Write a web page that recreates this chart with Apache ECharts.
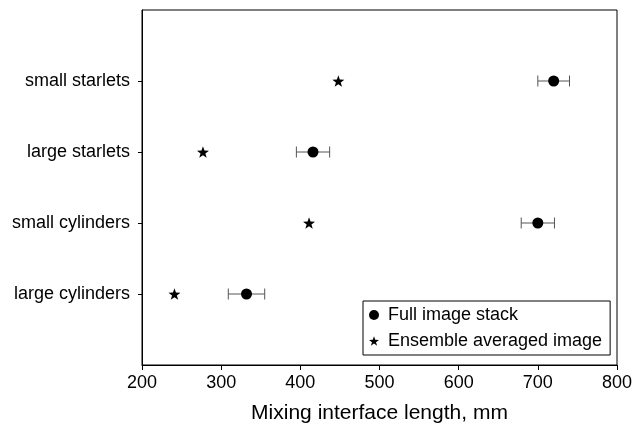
<!DOCTYPE html>
<html>
<head>
<meta charset="utf-8">
<script src="https://cdn.jsdelivr.net/npm/echarts@6/dist/echarts.min.js"></script>
<style>
  html, body { margin: 0; padding: 0; background: #fff; }
  #main { width: 634px; height: 425px; }
</style>
</head>
<body>
<div id="main"></div>
<script>
// categories listed bottom to top
const categories = ['large cylinders', 'small cylinders', 'large starlets', 'small starlets'];
const fullImage = [332, 700, 416, 720];
const fullImageErr = [23, 21, 21, 20];
const ensembleAvg = [241, 411, 277, 448];
const xTicks = [200, 300, 400, 500, 600, 700, 800];

const starPath = 'path://M0,-10 L2.35,-3.24 L9.51,-3.09 L3.8,1.24 L5.88,8.09 L0,4 L-5.88,8.09 L-3.8,1.24 L-9.51,-3.09 L-2.35,-3.24 Z';
const font = 'Liberation Sans, Arial, sans-serif';
const catPos = categories.map((c, i) => i + 1);

const chart = echarts.init(document.getElementById('main'), null, { renderer: 'canvas' });

const errData = categories.map((c, i) => [fullImage[i] - fullImageErr[i], fullImage[i] + fullImageErr[i], i + 1]);

chart.setOption({
    animation: false,
    backgroundColor: '#fff',
    grid: {
        left: 142, right: 17, top: 10, bottom: 60,
        outerBoundsMode: 'none',
        show: true, borderColor: '#000', borderWidth: 1
    },
    xAxis: {
        type: 'value',
        min: xTicks[0],
        max: xTicks[xTicks.length - 1],
        interval: 100,
        splitLine: { show: false },
        axisLine: { lineStyle: { color: '#000' } },
        axisTick: { show: true, inside: false, length: 5, lineStyle: { color: '#000' } },
        axisLabel: { color: '#000', fontSize: 18, fontFamily: font, margin: 9, hideOverlap: false },
        name: 'Mixing interface length, mm',
        nameLocation: 'middle',
        nameGap: 38,
        nameTextStyle: { color: '#000', fontSize: 21, fontFamily: font }
    },
    yAxis: {
        type: 'value',
        min: 0,
        max: 5,
        interval: 1,
        splitLine: { show: false },
        axisLine: { lineStyle: { color: '#000' } },
        axisTick: {
            show: true, length: 4, lineStyle: { color: '#000' },
            customValues: catPos
        },
        axisLabel: {
            color: '#000', fontSize: 18, fontFamily: font, margin: 12,
            customValues: catPos,
            formatter: v => (v >= 1 && v <= categories.length) ? categories[v - 1] : ''
        }
    },
    legend: {
        orient: 'vertical',
        left: 363,
        top: 301,
        itemWidth: 10,
        itemHeight: 10,
        itemGap: 8,
        padding: [5, 8, 5, 6],
        borderColor: '#000',
        borderWidth: 1,
        textStyle: { color: '#000', fontSize: 18, fontFamily: font, padding: [0, 0, 0, 4] },
        data: [
            { name: 'Full image stack', icon: 'circle' },
            { name: 'Ensemble averaged image', icon: starPath }
        ]
    },
    series: [
        {
            type: 'custom',
            name: 'err',
            data: errData,
            silent: true,
            z: 1,
            renderItem: (params, api) => {
                const y = api.value(2);
                const p1 = api.coord([api.value(0), y]);
                const p2 = api.coord([api.value(1), y]);
                const h = 5.5;
                const style = { stroke: '#555', lineWidth: 1 };
                return {
                    type: 'group',
                    children: [
                        { type: 'line', shape: { x1: p1[0], y1: p1[1], x2: p2[0], y2: p2[1] }, style },
                        { type: 'line', shape: { x1: p1[0], y1: p1[1] - h, x2: p1[0], y2: p1[1] + h }, style },
                        { type: 'line', shape: { x1: p2[0], y1: p2[1] - h, x2: p2[0], y2: p2[1] + h }, style }
                    ]
                };
            }
        },
        {
            type: 'scatter',
            name: 'Full image stack',
            symbol: 'circle',
            symbolSize: 11,
            itemStyle: { color: '#000', opacity: 1 },
            z: 3,
            data: fullImage.map((v, i) => [v, i + 1])
        },
        {
            type: 'scatter',
            name: 'Ensemble averaged image',
            symbol: starPath,
            symbolSize: 12,
            symbolKeepAspect: true,
            itemStyle: { color: '#000', opacity: 1 },
            z: 3,
            data: ensembleAvg.map((v, i) => [v, i + 1])
        }
    ]
});
</script>
</body>
</html>
